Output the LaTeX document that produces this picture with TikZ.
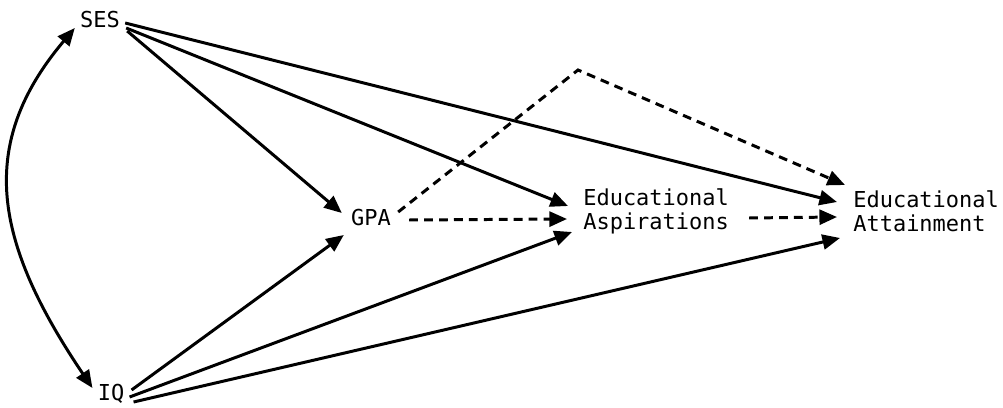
\documentclass[tikz,border=0pt]{standalone}
\usepackage{fontspec}
\setmonofont{DejaVu Sans Mono}
\usetikzlibrary{arrows.meta,calc}
\tikzset{
  var/.style={inner sep=0pt, font=\ttfamily\fontsize{12.5}{13.7}\selectfont, align=left},
  causal/.style={line width=1.7pt, -{Triangle[length=10pt,width=8.5pt]}},
  indirect/.style={causal, dash pattern=on 5pt off 3.5pt},
}
\begin{document}
\begin{tikzpicture}[x=0.02cm, y=-0.02cm]
\useasboundingbox (0,0) rectangle (1003,408);
\node[var] (ses) at (100,20) {SES};
\node[var] (iq) at (111,394) {IQ};
\node[var] (gpa) at (371,218) {GPA};
\node[var, anchor=west] (asp) at (583,211) {Educational\\Aspirations};
\node[var, anchor=west] (att) at (853,211) {Educational\\Attainment};
\coordinate (peak) at (578,70);
% correlation
\draw[line width=1.7pt, {Triangle[length=10pt,width=8.5pt]}-{Triangle[length=10pt,width=8.5pt]}]
  ($(ses.west)+(-5,8)$) .. controls (-24,145) and (-6,242) .. ($(iq.west)+(-5,-6)$);
% SES paths
\draw[causal] ($(ses.east)+(5,3)$) -- ($(att.west)+(-16,-9)$);
\draw[causal] ($(ses.east)+(6,8)$) -- ($(asp.west)+(-15,-5)$);
\draw[causal] ($(ses.east)+(7,11)$) -- ($(gpa.west)+(-9,-5)$);
% IQ paths
\draw[causal] ($(iq.east)+(7,-4)$) -- ($(gpa.west)+(-7,17)$);
\draw[causal] ($(iq.east)+(5,3)$) -- ($(asp.west)+(-11,21)$);
\draw[causal] ($(iq.east)+(9,8)$) -- ($(att.west)+(-13,27)$);
% dashed paths
\draw[indirect] ($(gpa.east)+(18,2)$) -- ($(asp.west)+(-16,8)$);
\draw[indirect] ($(gpa.east)+(7,-6)$) -- (peak) -- ($(att.west)+(-8,-26)$);
\draw[indirect] ($(asp.east)+(20,7)$) -- ($(att.west)+(-16,6)$);
\end{tikzpicture}
\end{document}
